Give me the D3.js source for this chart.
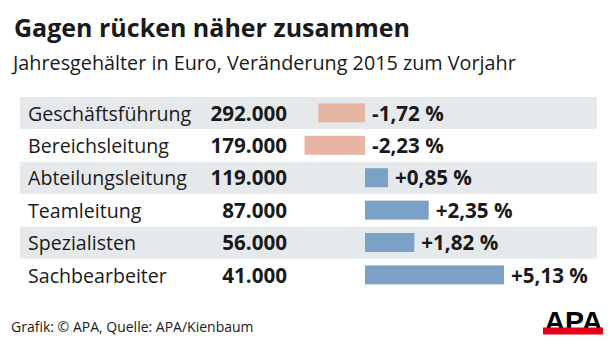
<!DOCTYPE html>
<html>
<head>
<meta charset="utf-8">
<script src="https://cdn.jsdelivr.net/npm/d3@7"></script>
<style>
    body { margin: 0; background: #fff; }
    svg text { font-family: "Open Sans", sans-serif; fill: #1a1a1a; }
</style>
</head>
<body>
<div id="chart"></div>
<script>
const categories = ["Geschäftsführung", "Bereichsleitung", "Abteilungsleitung", "Teamleitung", "Spezialisten", "Sachbearbeiter"];
const salaries = [292000, 179000, 119000, 87000, 56000, 41000];
const changes = [-1.72, -2.23, 0.85, 2.35, 1.82, 5.13];

const width = 616, height = 350;

const svg = d3.select("#chart")
    .append("svg")
    .attr("width", width)
    .attr("height", height);

// header
svg.append("text")
    .attr("x", 14).attr("y", 37)
    .attr("font-size", 25).attr("font-weight", 700)
    .text("Gagen rücken näher zusammen");

svg.append("text")
    .attr("x", 13).attr("y", 70)
    .attr("font-size", 19.8)
    .text("Jahresgehälter in Euro, Veränderung 2015 zum Vorjahr");

// scales
const rows = d3.range(categories.length);
const yScale = d3.scaleBand()
    .domain(rows)
    .range([97, 291.4]);

const xScale = d3.scaleLinear()
    .domain([-3, 6])
    .range([365 - 3 * 27.1, 365 + 6 * 27.1]);

const fmtNum = d3.formatLocale({ decimal: ",", thousands: ".", grouping: [3], currency: ["", ""] });
const fmtSalary = fmtNum.format(",.0f");
const fmtPct = fmtNum.format("+.2f");

// striped background rows
svg.selectAll(".stripe")
    .data(rows.filter(i => i % 2 === 0))
    .enter().append("rect")
    .attr("class", "stripe")
    .attr("x", 20)
    .attr("y", i => yScale(i))
    .attr("width", 577)
    .attr("height", yScale.bandwidth() - 0.4)
    .attr("fill", "#e6e9ec");

const row = svg.selectAll(".row")
    .data(rows)
    .enter().append("g")
    .attr("class", "row")
    .attr("transform", i => `translate(0,${yScale(i) + yScale.bandwidth() / 2})`);

row.append("text")
    .attr("x", 28).attr("y", 7.3)
    .attr("font-size", 19.6)
    .text(i => categories[i]);

row.append("text")
    .attr("x", 287).attr("y", 7.3)
    .attr("text-anchor", "end")
    .attr("font-size", 20.6).attr("font-weight", 700)
    .text(i => fmtSalary(salaries[i]));

const barH = 19;
row.append("rect")
    .attr("x", i => xScale(Math.min(0, changes[i])))
    .attr("y", -barH / 2 - 0.3)
    .attr("width", i => Math.abs(xScale(changes[i]) - xScale(0)))
    .attr("height", barH)
    .attr("fill", i => changes[i] < 0 ? "#e8b5a2" : "#7ba2c6");

row.append("text")
    .attr("x", i => xScale(Math.max(0, changes[i])) + 7)
    .attr("y", 7.3)
    .attr("font-size", 20.6).attr("font-weight", 700)
    .text(i => (changes[i] < 0 ? fmtPct(changes[i]).replace("−", "-") : fmtPct(changes[i])) + " %");

// footer
svg.append("text")
    .attr("x", 11).attr("y", 332)
    .attr("font-size", 14)
    .text("Grafik: © APA, Quelle: APA/Kienbaum");

// APA logo
svg.append("text")
    .attr("x", 573.5).attr("y", 331)
    .attr("text-anchor", "middle")
    .attr("font-family", "Liberation Sans")
    .style("font-family", "Liberation Sans, sans-serif")
    .attr("font-size", 28).attr("font-weight", 700)
    .attr("textLength", 58)
    .attr("lengthAdjust", "spacingAndGlyphs")
    .style("fill", "#000")
    .text("APA");

svg.append("rect")
    .attr("x", 543).attr("y", 327.5)
    .attr("width", 60).attr("height", 7)
    .attr("fill", "#e3001b");
</script>
</body>
</html>
